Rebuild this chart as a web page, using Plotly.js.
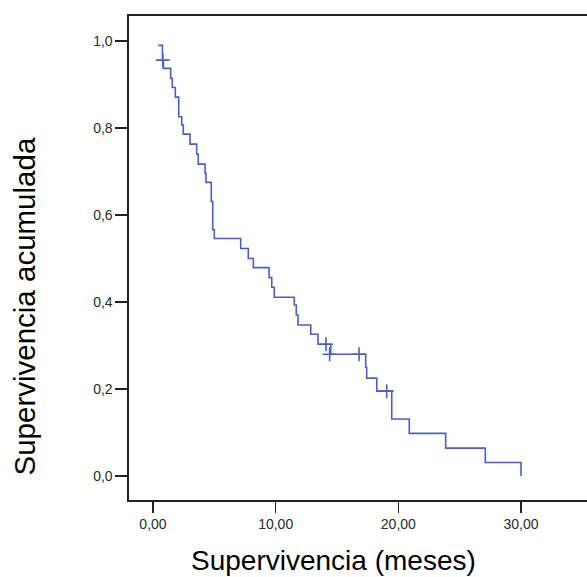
<!DOCTYPE html>
<html>
<head>
<meta charset="utf-8">
<script src="https://cdn.plot.ly/plotly-3.0.1.min.js"></script>
<style>html,body{margin:0;padding:0;background:#fff;}#chart{width:587px;height:577px;}</style>
</head>
<body>
<div id="chart"></div>
<script>
// Kaplan-Meier step points (time in months, cumulative survival)
var times = [0.43, 0.77, 0.85, 1.44, 1.57, 1.82, 2.10, 2.34, 2.47, 3.02, 3.56, 3.69, 4.24, 4.32, 4.75, 4.87, 5.00, 7.15, 7.77, 8.18, 9.46, 9.68, 9.89, 11.52, 11.68, 11.82, 12.86, 13.45, 14.49, 17.34, 17.42, 18.24, 19.46, 20.89, 23.86, 27.09, 30.0];
var surv  = [0.990, 0.956, 0.937, 0.914, 0.893, 0.871, 0.826, 0.807, 0.786, 0.763, 0.740, 0.717, 0.696, 0.675, 0.631, 0.566, 0.546, 0.523, 0.500, 0.479, 0.456, 0.434, 0.411, 0.393, 0.370, 0.347, 0.326, 0.303, 0.280, 0.250, 0.225, 0.195, 0.131, 0.098, 0.064, 0.031, 0.000];
// Censored observations
var censorTimes = [0.80, 14.10, 14.40, 16.80, 19.05];
var censorSurv  = [0.956, 0.303, 0.280, 0.280, 0.195];
// Tick labels
var xTickVals = [0, 10, 20, 30];
var xTickText = ["0,00", "10,00", "20,00", "30,00"];
var yTickVals = [0, 0.2, 0.4, 0.6, 0.8, 1.0];
var yTickText = ["0,0", "0,2", "0,4", "0,6", "0,8", "1,0"];
var xTitle = "Supervivencia (meses)";
var yTitle = "Supervivencia acumulada";

var blue = "#4a5fc1";
var data = [
  {x: times, y: surv, type: "scatter", mode: "lines",
   line: {shape: "hv", color: blue, width: 1.6}, hoverinfo: "skip", showlegend: false},
  {x: censorTimes, y: censorSurv, type: "scatter", mode: "markers",
   marker: {symbol: "cross-thin-open", size: 10, color: blue, line: {color: blue, width: 1.6}},
   hoverinfo: "skip", showlegend: false}
];
var tickFont = {family: "Liberation Sans, Arial, sans-serif", size: 14, color: "#2a2a2a"};
var layout = {
  width: 587, height: 577,
  margin: {l: 129, r: 0, t: 16, b: 77, pad: 0},
  paper_bgcolor: "#fff", plot_bgcolor: "#fff",
  showlegend: false,
  xaxis: {range: [-1.956, 35.38], tickvals: xTickVals, ticktext: xTickText,
    showgrid: false, zeroline: false, showline: true, mirror: true,
    linecolor: "#222", linewidth: 1.6, ticks: "outside", ticklen: 11, tickwidth: 1.6, tickcolor: "#222",
    tickfont: tickFont, fixedrange: true},
  yaxis: {range: [-0.0552, 1.0575], tickvals: yTickVals, ticktext: yTickText,
    showgrid: false, zeroline: false, showline: true, mirror: false,
    linecolor: "#222", linewidth: 1.6, ticks: "outside", ticklen: 12, tickwidth: 1.6, tickcolor: "#222",
    tickfont: tickFont, fixedrange: true},
  annotations: [
    {text: xTitle, xref: "paper", yref: "paper", x: 0.4465, y: -0.124,
     xanchor: "center", yanchor: "middle", showarrow: false,
     font: {family: "Liberation Sans, Arial, sans-serif", size: 28, color: "#000"}},
    {text: yTitle, xref: "paper", yref: "paper", x: -0.229, y: 0.40,
     xanchor: "center", yanchor: "middle", textangle: -90, showarrow: false,
     font: {family: "Liberation Sans, Arial, sans-serif", size: 29.5, color: "#000"}}
  ]
};
Plotly.newPlot("chart", data, layout, {displayModeBar: false, staticPlot: true});
</script>
</body>
</html>
